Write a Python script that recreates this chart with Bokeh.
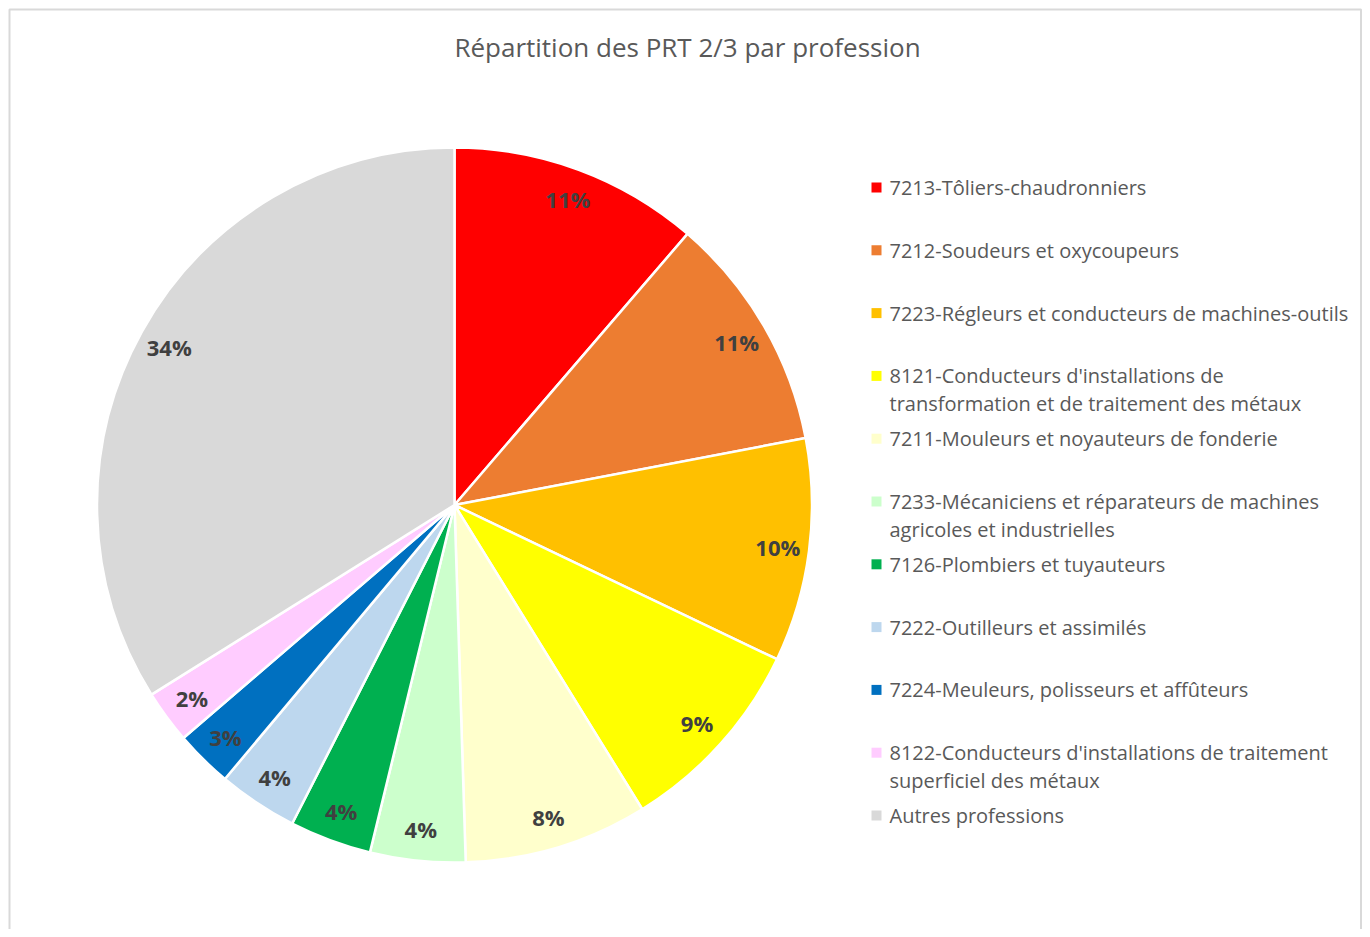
import math
from bokeh.plotting import figure
from bokeh.models import Range1d, ColumnDataSource
from bokeh.core.properties import value
from bokeh.embed import file_html
from bokeh.resources import INLINE

# ---- data ----
title = "Répartition des PRT 2/3 par profession"
categories = [
    "7213-Tôliers-chaudronniers",
    "7212-Soudeurs et oxycoupeurs",
    "7223-Régleurs et conducteurs de machines-outils",
    "8121-Conducteurs d'installations de\ntransformation et de traitement des métaux",
    "7211-Mouleurs et noyauteurs de fonderie",
    "7233-Mécaniciens et réparateurs de machines\nagricoles et industrielles",
    "7126-Plombiers et tuyauteurs",
    "7222-Outilleurs et assimilés",
    "7224-Meuleurs, polisseurs et affûteurs",
    "8122-Conducteurs d'installations de traitement\nsuperficiel des métaux",
    "Autres professions",
]
shares = [11.3, 10.7, 10.1, 9.1, 8.3, 4.3, 3.7, 3.6, 2.6, 2.4, 33.9]
colors = ["#FF0000", "#ED7D31", "#FFC000", "#FFFF00", "#FFFFCC", "#CCFFCC",
          "#00B050", "#BDD7EE", "#0070C0", "#FFCCFF", "#D9D9D9"]

# ---- layout (image pixels, y downwards) ----
W, H = 1362, 929


def Y(ypix):
    return H - ypix


cx, cy, R = 454, Y(504.5), 357.5
FONT = value("Open Sans")

p = figure(width=W, height=H, x_range=Range1d(0, W), y_range=Range1d(0, H),
           x_axis_location=None, y_axis_location=None, toolbar_location=None,
           output_backend="svg", min_border=0)
p.grid.visible = False
p.outline_line_color = None
p.background_fill_color = "white"

# chart border (left, top, right; bottom is outside the window)
p.line(x=[9, 9, W - 1.5, W - 1.5], y=[-20, Y(9), Y(9), -20], line_color="#D9D9D9", line_width=2)

# pie
total = sum(shares)
starts, ends, mids = [], [], []
cum = 0.0
for v in shares:
    a0 = math.pi / 2 - 2 * math.pi * cum / total
    cum += v
    a1 = math.pi / 2 - 2 * math.pi * cum / total
    starts.append(a0)
    ends.append(a1)
    mids.append((a0 + a1) / 2)

src = ColumnDataSource(dict(start=starts, end=ends, color=colors))
p.wedge(x=cx, y=cy, radius=R, start_angle="start", end_angle="end", direction="clock",
        fill_color="color", line_color="white", line_width=2.5, source=src)

# data labels
lr = 0.912 * R
lab = ColumnDataSource(dict(
    x=[cx + lr * math.cos(m) for m in mids],
    y=[cy + lr * math.sin(m) for m in mids],
    t=[f"{round(v)}%" for v in shares],
))
p.text(x="x", y="y", text="t", source=lab, text_font=FONT, text_font_size="22px",
       text_font_style="bold", text_color="#404040", text_align="center",
       text_baseline="middle")

# title
p.text(x=[687], y=[Y(46)], text=[title], text_font=FONT, text_font_size="26px",
       text_color="#595959", text_align="center", text_baseline="middle")

# legend
leg_x0, leg_y0, leg_step, line_gap = 876, 187, 62.8, 28
sq_x, sq_y, sq_c = [], [], []
tx, ty, tt = [], [], []
for i, (name, c) in enumerate(zip(categories, colors)):
    yp = leg_y0 + i * leg_step
    sq_x.append(leg_x0)
    sq_y.append(Y(yp))
    sq_c.append(c)
    for j, line in enumerate(name.split("\n")):
        tx.append(leg_x0 + 13)
        ty.append(Y(yp + j * line_gap))
        tt.append(line)
p.scatter(x=sq_x, y=sq_y, marker="square", size=10, fill_color=sq_c, line_color=None)
p.text(x=tx, y=ty, text=tt, text_font=FONT, text_font_size="20px", text_color="#595959",
       text_align="left", text_baseline="middle")

open("out.html", "w").write(file_html(p, INLINE))
